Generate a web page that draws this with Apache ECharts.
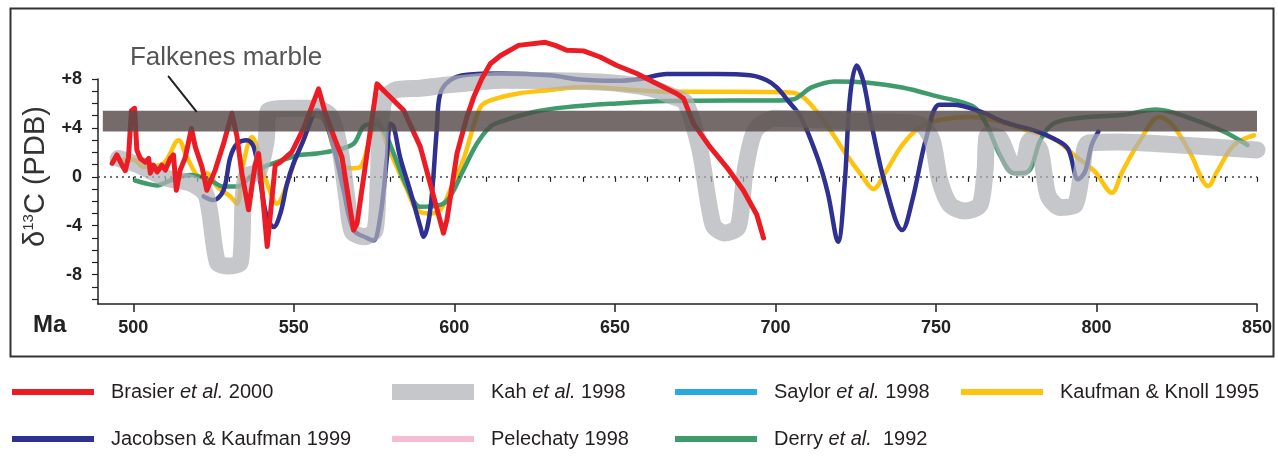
<!DOCTYPE html>
<html><head><meta charset="utf-8">
<script src="https://cdn.jsdelivr.net/npm/echarts@6/dist/echarts.min.js"></script>
<style>html,body{margin:0;padding:0;background:#fff}#c{width:1278px;height:461px}</style>
</head><body><div id="c"></div>
<script>
// ---- data (Ma, δ13C) ----
const brasier = [[493.4,1.1],[494.9,1.8],[496.5,0.95],[497.5,0.5],[498.5,1.6],[499.4,5.4],[500.4,5.6],[501.1,2.2],[502.2,1.5],[503.7,1.2],[504.8,1.5],[505.3,0.3],[506.3,0.95],[507.4,0.4],[508.9,0.95],[510,0.55],[511.5,1.5],[512.5,1.8],[513.4,-1.1],[514.6,0.55],[516.2,1.6],[518.1,3.95],[519.3,2.45],[521.4,0.8],[522.9,-1.1],[525.5,0.55],[528.1,2.7],[530.7,5.2],[532.3,3.3],[533.8,0.3],[535.9,-2.7],[537.8,0.8],[539.0,1.9],[540.6,-2.45],[541.7,-5.7],[544.2,0.95],[545.8,1.2],[549.4,2.05],[553.0,3.95],[557.7,7.2],[559.8,5.2],[562.9,3.0],[565.0,1.6],[568.6,-4.35],[569.7,-3.8],[575.9,7.6],[579.0,6.8],[584.2,5.45],[589.4,2.45],[596.6,-4.6],[597.7,-3.5],[600.8,1.9],[603.9,4.9],[606,6.5],[608.5,8.0],[611.2,9.25],[614.3,9.9],[620,10.75],[628.3,11.0],[631.4,10.75],[635,10.35],[640.2,10.3],[645.4,9.8],[650.6,9.1],[656.8,8.45],[662,7.75],[669.3,6.8],[671.4,6.4],[674.5,4.35],[679.6,2.45],[684.8,0.8],[690,-1.1],[694.2,-3.1],[696.3,-5.0]];
const jacobsen = [[521.9,-1.6],[525,-1.9],[528.1,-1.1],[530.2,1.6],[532.3,2.7],[535.4,3.0],[537.5,2.45],[539.5,-0.3],[541.6,-3.3],[543.7,-4.1],[545.8,-3.0],[547.9,-0.55],[549.9,1.1],[553.0,3.0],[556.2,5.2],[557.2,5.45],[559.3,4.9],[562.4,2.45],[565.5,-1.1],[568.6,-4.35],[572.8,-5.0],[574.8,-5.2],[576.9,-3.3],[579.0,1.6],[580.0,4.35],[581.1,4.1],[583.1,1.6],[586.2,-1.1],[589.4,-4.1],[590.4,-4.9],[592.5,-2.7],[594.5,3.8],[595.6,6.8],[598.7,7.9],[603.9,8.35],[614.3,8.45],[629.8,8.3],[639.2,7.95],[650.6,7.85],[657.8,8.0],[666.2,8.4],[681.7,8.4],[692.1,8.3],[697.3,7.9],[700.5,7.3],[704,6.2],[707.9,4.9],[713.2,1.5],[716.3,-1.3],[719.5,-5.3],[721.6,-0.45],[723.2,6.45],[725.3,9.1],[727.4,7.8],[730.0,4.2],[734.3,-0.75],[739.5,-4.35],[742.7,-1.85],[746.9,3.1],[751.1,5.9],[755.3,5.9],[763.7,5.35],[771.1,4.5],[781.6,3.7],[786.9,3.1],[791.1,2.3],[794.3,-0.2],[796.4,0.4],[798.5,2.6],[800.6,3.7]];
const kaufmanKnoll = [[497,1.4],[500.1,1.4],[503.2,0.8],[509.4,1.1],[514.1,3.0],[516.7,1.6],[520.9,0],[522.9,0.3],[526.1,-0.8],[530.2,-1.6],[532.3,-2.2],[534.3,1.1],[537.0,3.25],[538.5,2.45],[540.6,0.3],[543.2,-1.6],[544.7,-2.2],[547.9,-0.6],[550,1.1],[553,3.0],[556.5,5.0],[559.5,4.6],[562.5,2.3],[565,0.9],[568,0.7],[570.7,0.8],[573.8,3.25],[575.9,4.6],[579.0,2.7],[582.1,0.8],[585.2,-1.0],[588.3,-2.7],[592.5,-3.0],[595.6,-2.7],[598.7,-1.1],[602.8,1.4],[605,3.3],[608.1,5.7],[611.2,6.25],[619.5,6.8],[629.8,7.1],[640.2,7.35],[650.6,7.2],[666.2,6.95],[686.9,6.95],[704.7,6.9],[709.0,6.45],[715.3,4.5],[721.6,2.0],[726.9,0.1],[730.5,-1.0],[734.3,0.4],[739.5,2.6],[744.8,4.0],[751.1,4.65],[760.6,4.9],[770,4.5],[779.5,3.7],[786.9,3.1],[793.2,1.75],[799.6,0.4],[804.8,-1.3],[808,0.4],[813.3,2.85],[819.6,4.9],[823.8,4.2],[829.1,2.0],[834.9,-0.75],[837.5,0.4],[842.8,2.6],[849.1,3.4]];
const derry = [[500.6,-0.3],[504.8,-0.6],[507.4,-0.7],[511.5,-0.3],[517.8,0.15],[524.0,-0.3],[528.1,-0.8],[532.3,-0.8],[536.4,0],[540.6,0.8],[544.7,1.2],[551,1.75],[557.2,1.9],[563.4,2.2],[568.6,2.7],[571.7,4.1],[574.8,4.35],[577.9,3.8],[581.1,1.9],[585.2,-0.8],[589.4,-2.45],[595.6,-2.3],[598.7,-1.6],[602.8,0.55],[607,2.7],[611.2,4.1],[614.3,4.5],[624.7,5.3],[635,5.7],[650.6,6.0],[666.2,6.2],[686.9,6.25],[699.4,6.25],[705.8,6.35],[708,6.7],[711.1,7.3],[718.4,7.8],[729,7.7],[739.5,7.3],[750.1,6.6],[761.6,5.75],[765.8,4.25],[770.0,1.75],[774.3,0.3],[778.5,0.4],[782.7,3.1],[786.9,4.4],[797.4,4.9],[808,5.05],[818.5,5.5],[829.1,4.8],[839.6,3.7],[847,2.6]];
const kah = [[495.3,1.5],[502.2,0.9],[510,-0.1],[517.7,-0.5],[522.7,-1.5],[526.2,-7.0],[529.6,-7.3],[533.3,-7.0],[534.2,-1.9],[535.2,0.05],[538.9,0.4],[541.4,3.0],[542.0,5.4],[548.9,5.6],[556.7,5.6],[561.3,5.0],[564.4,2.2],[566.6,-1.9],[568.2,-4.5],[572.2,-4.9],[575.3,-4.35],[576.3,-0.3],[576.9,3.8],[578.1,6.25],[581.6,7.1],[589.4,7.25],[597.1,7.5],[604.9,7.7],[614.3,7.9],[645.4,7.75],[661,7.25],[667.8,6.6],[671.9,6.1],[676.5,2.2],[680.6,-3.95],[684.3,-4.6],[688.4,-4.1],[690.6,0.55],[693.7,3.8],[699.9,4.8],[723.2,4.55],[745.0,4.3],[748.8,3.0],[751.2,-0.3],[754.4,-2.3],[759.0,-2.8],[763.7,-2.3],[765.3,0.55],[766.2,3.4],[769.9,3.15],[773.7,0.95],[776.8,0.7],[779.3,3.0],[782.4,2.2],[784.9,-1.5],[788.6,-2.5],[793.3,-2.3],[795.5,0.55],[797.3,2.75],[807.3,2.85],[826,2.6],[850,2.2]];
const falkenesBand = [[490.5, 850, 3.7, 5.4]];
const leader = [[511,8.2],[519.6,5.36]];
const annotation = [[498.8, 9.77]];
const xLabelTicks = [500,550,600,650,700,750,800,850];
const xMinorTicks = [500,510,520,530,540,550,560,570,580,590,600,610,620,630,640,650,660,670,680,690,700,710,720,730,740,750,760,770,780,790,800,810,820,830,840,850];
const yTicks = [-10,-9,-8,-7,-6,-5,-4,-3,-2,-1,0,1,2,3,4,5,6,7,8];
const yLabelTicks = [-8,-4,0,4,8];

const FONT = "'Liberation Sans', Arial, sans-serif";
const chart = echarts.init(document.getElementById('c'));

function lineSeries(name, data, color, width, z, smooth, extra) {
  return Object.assign({
    name, type: 'line', data, z, smooth, showSymbol: false, symbol: 'none', clip: false,
    lineStyle: { color, width, cap: 'round', join: 'round' },
    itemStyle: { color }, silent: true
  }, extra || {});
}
function fmt(name) {
  const parts = name.split('et al.');
  if (parts.length === 1) return '{g|}{n|' + name + '}';
  return '{g|}{n|' + parts[0] + '}{i|et al.}{n|' + parts[1] + '}';
}
const LT = { fontFamily: FONT, fontSize: 20, color: '#231f20' };
function legend(name, left, top, h) {
  return {
    data: [name], left, top, padding: 0, icon: 'rect', itemWidth: 82, itemHeight: h || 6,
    selectedMode: false, formatter: fmt,
    textStyle: Object.assign({}, LT, {
      rich: { g: { width: 12 }, n: Object.assign({}, LT), i: Object.assign({ fontStyle: 'italic' }, LT) } })
  };
}
const row1 = 382, row2 = 429;
const axisColor = '#222';

chart.setOption({
  animation: false,
  backgroundColor: '#fff',
  grid: { left: 98, right: 21, top: 79, bottom: 157 },
  xAxis: [{
    type: 'value', min: 489, max: 850,
    axisLine: { show: true, onZero: false, lineStyle: { color: axisColor, width: 1.5 } },
    axisTick: { show: true, customValues: xLabelTicks, length: 8, lineStyle: { color: axisColor, width: 1.5 } },
    axisLabel: { customValues: xLabelTicks, margin: 15, fontFamily: FONT, fontSize: 18, fontWeight: 'bold', color: axisColor },
    splitLine: { show: false }
  }, {
    type: 'value', min: 489, max: 850, position: 'bottom',
    axisLine: { show: false },
    axisTick: { show: true, customValues: xMinorTicks, length: 5, lineStyle: { color: axisColor, width: 1.2 } },
    axisLabel: { show: false }, splitLine: { show: false }
  }],
  yAxis: {
    type: 'value', min: -10.4, max: 8,
    name: '{d|δ}{s|13}{c|C (PDB)}', nameLocation: 'middle', nameGap: 44,
    nameTextStyle: { padding: [0, 0, 0, 30], rich: {
      d: { fontFamily: FONT, fontSize: 29, color: '#333', lineHeight: 30 },
      s: { fontFamily: FONT, fontSize: 15, color: '#333', verticalAlign: 'top', lineHeight: 30 },
      c: { fontFamily: FONT, fontSize: 29, color: '#333', lineHeight: 30 } } },
    axisLine: { show: true, lineStyle: { color: axisColor, width: 1.5 } },
    axisTick: { show: true, customValues: yTicks, length: 6, lineStyle: { color: axisColor, width: 1.2 } },
    axisLabel: { customValues: yLabelTicks, margin: 16, fontFamily: FONT, fontSize: 18, fontWeight: 'bold', color: axisColor,
      formatter: v => (v > 0 ? '+' + v : String(v)) },
    splitLine: { show: false }
  },
  legend: [
    legend('Brasier et al. 2000', 12, row1),
    legend('Kah et al. 1998', 392, row1, 16),
    legend('Saylor et al. 1998', 675, row1),
    legend('Kaufman & Knoll 1995', 961, row1),
    legend('Jacobsen & Kaufman 1999', 12, row2),
    legend('Pelechaty 1998', 392, row2),
    legend('Derry et al.  1992', 675, row2)
  ],
  graphic: [
    { type: 'rect', left: 8, top: 6, shape: { width: 1263, height: 348 }, style: { fill: null, stroke: '#333', lineWidth: 2 }, silent: true },
    { type: 'text', left: 33, top: 313, style: { text: 'Ma', font: "bold 24px 'Liberation Sans', Arial", fill: '#222' }, silent: true }
  ],
  series: [
    lineSeries('Kaufman & Knoll 1995', kaufmanKnoll, '#fdc30f', 4.5, 2, 0.35),
    lineSeries('Derry et al.  1992', derry, '#3f9b6c', 4.5, 3, 0.35, {
      markLine: { silent: true, symbol: 'none', label: { show: false },
        lineStyle: { color: '#444', width: 1.6, type: [2, 4] }, data: [{ yAxis: 0 }] }
    }),
    lineSeries('Jacobsen & Kaufman 1999', jacobsen, '#2e3192', 4.5, 4, 0.35),
    lineSeries('Kah et al. 1998', kah, 'rgba(176,178,181,0.72)', 17, 5, 0.25),
    lineSeries('Brasier et al. 2000', brasier, '#ec1c24', 5, 6, false),
    lineSeries('Saylor et al. 1998', [], '#27aae1', 4, 1, false),
    lineSeries('Pelechaty 1998', [], '#f6bcd4', 4, 1, false),
    {
      type: 'custom', name: 'Falkenes marble', z: 10, silent: true, data: falkenesBand,
      encode: { x: [0, 1], y: [2, 3] },
      renderItem: (params, api) => {
        const p0 = api.coord([api.value(0), api.value(3)]);
        const p1 = api.coord([api.value(1), api.value(2)]);
        return { type: 'rect', shape: { x: p0[0], y: p0[1], width: p1[0] - p0[0], height: p1[1] - p0[1] },
                 style: { fill: 'rgba(85,75,73,0.82)' } };
      }
    },
    lineSeries('leader', leader, '#231f20', 2, 11, false),
    {
      type: 'scatter', name: 'label', data: annotation, z: 12, clip: false, silent: true,
      symbolSize: 1, itemStyle: { color: 'transparent' },
      label: { show: true, position: 'right', distance: 0, formatter: 'Falkenes marble',
        fontFamily: FONT, fontSize: 26, color: '#2a2a2a' }
    }
  ]
});
</script>
</body></html>
